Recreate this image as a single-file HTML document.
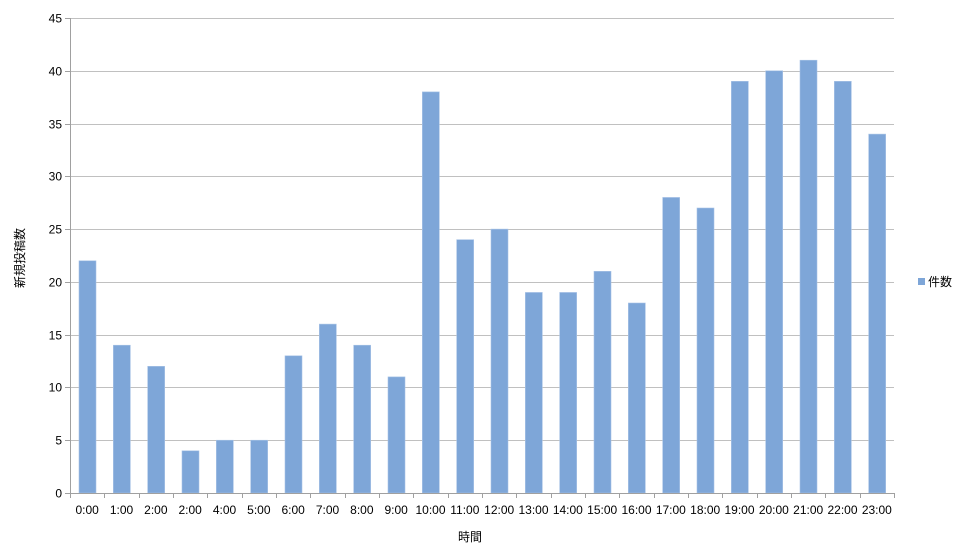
<!DOCTYPE html>
<html><head><meta charset="utf-8"><style>body{margin:0;background:#fff}svg{display:block}text{font-family:"Liberation Sans","Noto Sans CJK JP",sans-serif;font-size:12px;fill:#000}</style></head>
<body>
<svg width="960" height="553" xmlns="http://www.w3.org/2000/svg" id="s"></svg>
<script>
const s=document.getElementById('s');let h='';
const v=[22,14,12,4,5,5,13,16,14,11,38,24,25,19,19,21,18,28,27,39,40,41,39,34];
const lab=['0:00','1:00','2:00','2:00','4:00','5:00','6:00','7:00','8:00','9:00','10:00','11:00','12:00','13:00','14:00','15:00','16:00','17:00','18:00','19:00','20:00','21:00','22:00','23:00'];
const x0=70,x1=894,y0=493,k=475/45,w=(x1-x0)/24;
for(let i=0;i<=45;i+=5){const y=Math.round(y0-i*k)+0.5;
if(i>0)h+=`<line x1="${x0}" x2="${x1}" y1="${y}" y2="${y}" stroke="#c0c0c0"/>`;
h+=`<line x1="${x0-5}" x2="${x0}" y1="${y}" y2="${y}" stroke="#a0a0a0"/>`;
h+=`<text x="${x0-8}" y="${y+4}" text-anchor="end">${i}</text>`;}
v.forEach((d,i)=>{const bx=x0+i*w+9;const by=y0-d*k;
h+=`<rect x="${bx}" y="${by}" width="17" height="${y0-by}" fill="#7ea6d8" stroke="#a9c4e6" stroke-width="0.6"/>`;
h+=`<text x="${x0+i*w+w/2}" y="514" text-anchor="middle">${lab[i]}</text>`;});
for(let i=0;i<=24;i++){const x=Math.round(x0+i*w)+0.5;h+=`<line x1="${x}" x2="${x}" y1="${y0}" y2="${y0+5}" stroke="#a0a0a0"/>`;}
h+=`<line x1="${x0+0.5}" x2="${x0+0.5}" y1="18" y2="${y0}" stroke="#a0a0a0"/>`;
h+=`<line x1="${x0}" x2="${x1}" y1="${y0+0.5}" y2="${y0+0.5}" stroke="#a0a0a0"/>`;
h+=`<rect x="918" y="278" width="7" height="7" fill="#7ea6d8"/><text x="928" y="286">件数</text>`;
h+=`<text x="470" y="541" text-anchor="middle">時間</text>`;
h+=`<text transform="translate(24,258) rotate(-90)" text-anchor="middle">新規投稿数</text>`;
s.innerHTML=h;
</script>
</body></html>
